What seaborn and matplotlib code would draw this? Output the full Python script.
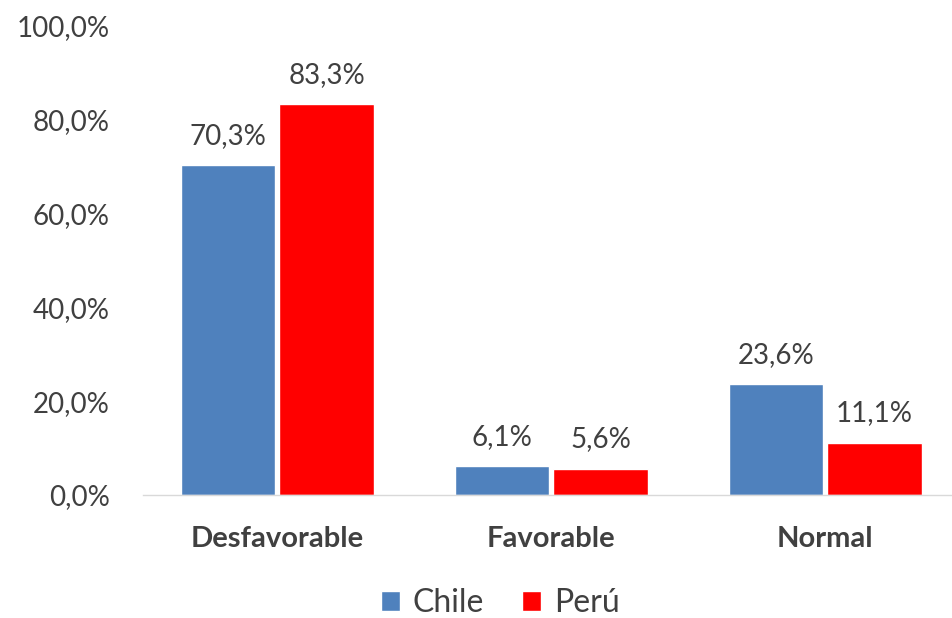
import matplotlib
matplotlib.use("Agg")
import matplotlib.pyplot as plt
import seaborn as sns
import pandas as pd
from matplotlib.patches import Patch

categories = ["Desfavorable", "Favorable", "Normal"]
chile = [70.3, 6.1, 23.6]
peru = [83.3, 5.6, 11.1]
series = ["Chile", "Perú"]
yticks = [0, 20, 40, 60, 80, 100]

df = pd.DataFrame({
    "cat": categories * 2,
    "val": chile + peru,
    "serie": ["Chile"] * 3 + ["Perú"] * 3,
})

sns.set_theme(style="white")
plt.rcParams['font.family'] = ['Lato', 'DejaVu Sans']
colors = {"Chile": "#4F81BD", "Perú": "#FF0000"}

fig = plt.figure(figsize=(9.53, 6.18), dpi=100)
ax = fig.add_axes([143/953, 1 - 495/618, 1 - 143/953, (495 - 26)/618])
sns.barplot(data=df, x="cat", y="val", hue="serie", palette=colors,
            width=0.72, gap=0.04, ax=ax, legend=False, saturation=1)

txtc = "#404040"
for cont in ax.containers:
    for rect in cont:
        h = rect.get_height()
        ax.annotate(f"{h:.1f}%".replace(".", ","),
                    (rect.get_x() + rect.get_width()/2, h),
                    xytext=(0, 12), textcoords="offset points",
                    ha="center", va="bottom", fontsize=20, color=txtc)

ax.set_ylim(0, 100)
ax.set_xlim(-0.49, 2.466)
ax.set_yticks(yticks)
ax.set_yticklabels([f"{v:.1f}%".replace(".", ",") for v in yticks], fontsize=20, color=txtc)
ax.set_xticks(range(3))
ax.set_xticklabels(categories, fontsize=21, fontweight="bold", color=txtc)
ax.tick_params(axis="x", pad=22, length=0)
ax.tick_params(axis="y", pad=24, length=0)
ax.set_xlabel("")
ax.set_ylabel("")
for s in ["top", "right", "left"]:
    ax.spines[s].set_visible(False)
ax.spines["bottom"].set_color("#D9D9D9")
ax.spines["bottom"].set_linewidth(1)

handles = [Patch(facecolor=colors[s], label=s) for s in series]
fig.legend(handles=handles, loc="center", bbox_to_anchor=(0.525, 1 - 603/618),
           ncol=2, frameon=False, fontsize=23, handlelength=0.6, handleheight=0.6,
           handletextpad=0.4, columnspacing=1.2, labelcolor=txtc)

fig.savefig("out.png", dpi=100)
